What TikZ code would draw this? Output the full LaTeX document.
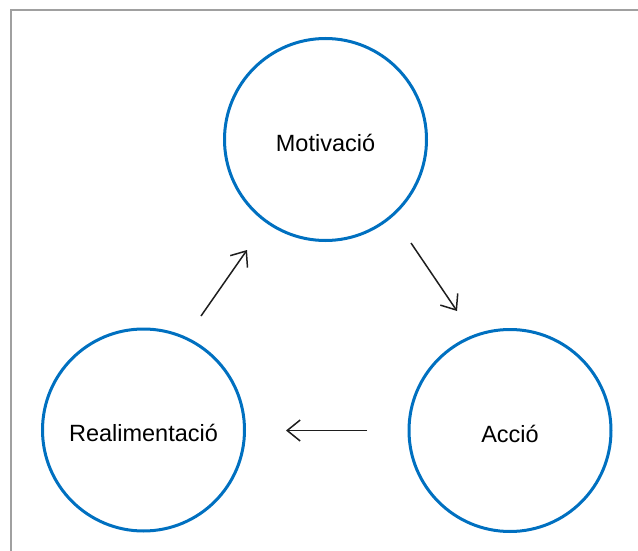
\documentclass[tikz,border=0pt]{standalone}
\usepackage{fontspec}
\setmainfont{Liberation Sans}
\usetikzlibrary{arrows.meta}
\definecolor{ringblue}{RGB}{0,112,192}
\definecolor{framegray}{RGB}{160,160,160}
\definecolor{arrowgray}{RGB}{30,30,30}
\begin{document}
\begin{tikzpicture}[x=1pt,y=-1pt,
  stage/.style={circle,draw=ringblue,line width=3pt,minimum size=202pt,inner sep=0pt},
  stagelabel/.style={font=\fontsize{23.5}{28}\selectfont,text=black},
  flow/.style={draw=arrowgray,line width=1.5pt,-{Straight Barb[length=13pt,width=21pt]}}]
  \useasboundingbox (0,0) rectangle (638,551);
  % frame
  \draw[framegray,line width=2pt] (11,560) -- (11,10) -- (650,10);
  % the three stages
  \node[stage] (motiv) at (325.5,139.5) {};
  \node[stage] (real) at (143.5,430) {};
  \node[stage] (accio) at (510,430.5) {};
  \node[stagelabel,yshift=-3pt] (motivtxt) at (motiv.center) {Motivació};
  \node[stagelabel,yshift=-3pt] (realtxt) at (real.center) {Realimentació};
  \node[stagelabel,yshift=-3pt] (acciotxt) at (accio.center) {Acció};
  % arrow end points
  \coordinate (rm1) at (201,316);
  \coordinate (rm2) at (247,250);
  \coordinate (ma1) at (411,243);
  \coordinate (ma2) at (457,311);
  \coordinate (ar1) at (367,430.5);
  \coordinate (ar2) at (286,430.5);
  \draw[flow] (rm1) -- (rm2);
  \draw[flow] (ma1) -- (ma2);
  \draw[flow] (ar1) -- (ar2);
\end{tikzpicture}
\end{document}
